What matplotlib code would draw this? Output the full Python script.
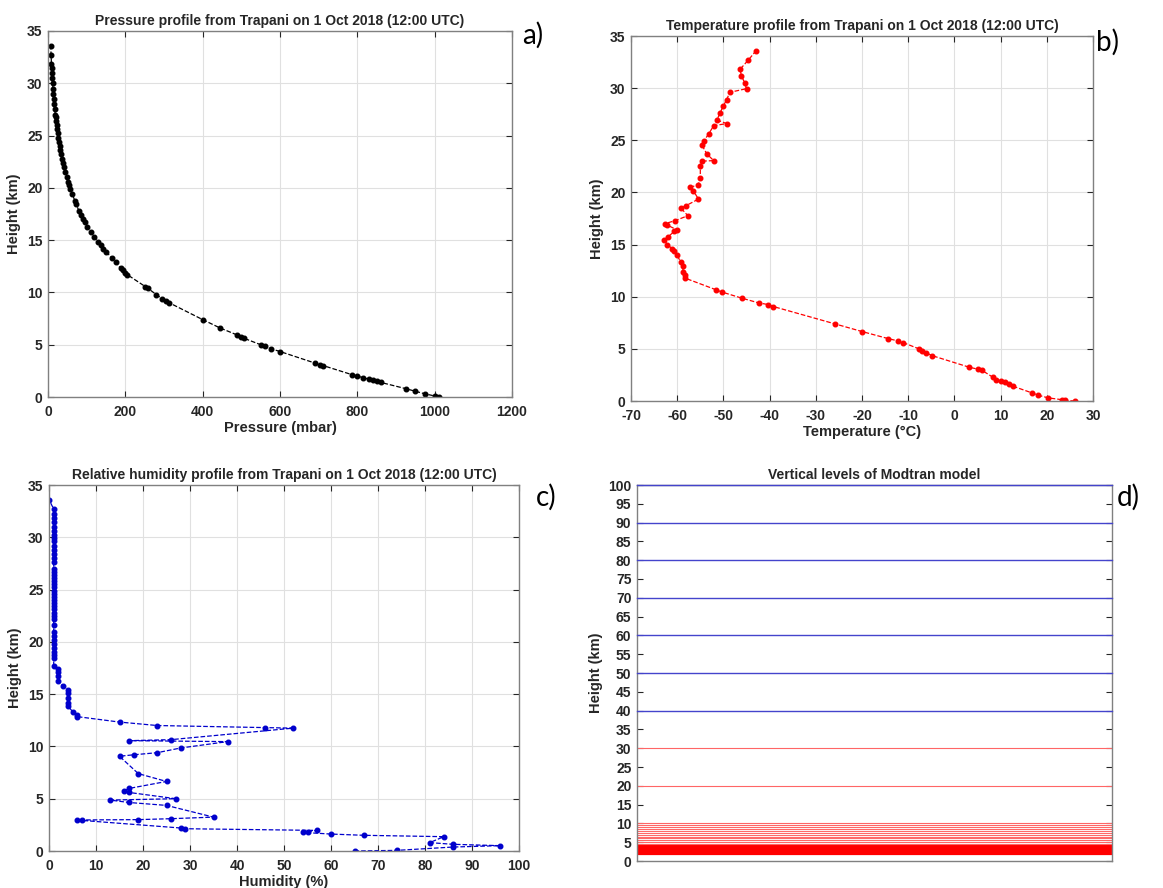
import matplotlib
matplotlib.use("Agg")
import matplotlib.pyplot as plt
import numpy as np

plt.rcParams['font.family'] = ['Liberation Sans', 'DejaVu Sans']
plt.rcParams['axes.unicode_minus'] = False

TITLE_DATE = "on 1 Oct 2018 (12:00 UTC)"

# ---------------- Panel a: pressure profile ----------------
pres_height_km = [0.0, 0.1, 0.3, 0.55, 0.8, 1.4, 1.5, 1.6, 1.7, 1.85, 2.0, 2.15, 3.0, 3.1, 3.25,
                  4.35, 4.6, 4.9, 5.0, 5.6, 5.7, 5.95, 6.6, 7.4, 9.0, 9.15, 9.4, 9.8, 10.4, 10.55,
                  11.7, 11.9, 12.1, 12.3, 12.9, 13.3, 13.9, 14.2, 14.5, 14.8, 15.3, 15.8, 16.3,
                  16.7, 17.0, 17.4, 17.8, 18.5, 18.7, 19.4, 19.9, 20.3, 20.6, 21.0, 21.5, 22.0,
                  22.4, 22.8, 23.2, 23.6, 24.0, 24.4, 24.8, 25.2, 25.6, 26.0, 26.4, 26.8, 27.0,
                  27.5, 28.0, 28.5, 29.0, 29.5, 30.0, 30.5, 31.0, 31.5, 31.8, 32.7, 33.6]
pres_mbar = [1012, 1000, 975, 950, 925, 860, 850, 840, 830, 815, 800, 785, 712, 703, 690,
             600, 578, 560, 550, 508, 500, 488, 445, 400, 314, 305, 295, 280, 258, 252,
             205, 200, 195, 188, 175, 165, 150, 143, 136, 130, 120, 111, 102,
             96, 91, 85, 80, 72, 70, 63, 58, 55, 52, 49, 45, 41,
             38, 36, 34, 32, 30, 28, 26, 25, 23, 22, 21, 20, 19,
             17.5, 16, 15, 14, 13, 12, 11, 10.5, 9.5, 9, 8, 7]

# ---------------- Panel b: temperature profile ----------------
temp_height_km = [0.0, 0.06, 0.13, 0.3, 0.55, 0.76, 1.43, 1.6, 1.8, 1.9, 2.0, 2.26, 2.96, 3.05, 3.24,
                  4.36, 4.64, 4.83, 4.99, 5.6, 5.76, 5.98, 6.65, 7.4, 9.06, 9.25, 9.4, 9.86,
                  10.46, 10.65, 11.8, 12.05, 12.37, 12.9, 13.3, 13.96, 14.34, 14.6, 15.0, 15.45,
                  15.77, 16.28, 16.4, 16.9, 17.0, 17.3, 17.77, 18.5, 18.73, 19.36, 20.16, 20.5,
                  20.7, 21.4, 22.5, 23.0, 23.05, 23.7, 24.5, 24.9, 25.6, 26.4, 26.6, 26.95,
                  27.65, 28.3, 28.9, 29.6, 29.95, 30.5, 31.2, 31.8, 32.7, 33.6]
temp_c = [26.1, 24.0, 23.2, 20.3, 18.2, 16.9, 12.6, 11.8, 10.9, 10.0, 9.0, 8.4, 5.9, 5.1, 3.2,
          -4.9, -6.1, -7.0, -7.6, -11.1, -12.2, -14.3, -19.9, -25.9, -39.2, -40.3, -42.3, -46.0,
          -50.4, -51.5, -58.4, -58.4, -58.7, -58.8, -59.2, -60.0, -60.8, -61.1, -62.1, -62.9,
          -61.9, -60.6, -60.0, -62.3, -62.7, -60.4, -57.7, -59.2, -58.1, -55.4, -56.5, -57.3,
          -55.5, -55.0, -55.0, -54.6, -52.1, -53.6, -54.6, -54.3, -53.2, -52.1, -49.3, -51.4,
          -50.7, -50.0, -49.3, -48.6, -45.0, -45.4, -46.1, -46.4, -44.6, -42.9]

# ---------------- Panel c: relative humidity profile ----------------
rh_height_km = [0.0, 0.06, 0.38, 0.51, 0.64, 0.8, 1.37, 1.5, 1.62, 1.78, 1.84, 1.97, 2.13, 2.2,
                2.96, 2.97, 3.0, 3.09, 3.24, 4.36, 4.64, 4.87, 5.0, 5.6, 5.76, 5.98, 6.65, 7.4,
                9.06, 9.2, 9.4, 9.85, 10.46, 10.55, 10.65, 11.75, 11.8, 12.0, 12.33, 12.85, 13.0,
                13.33, 13.9, 14.2, 14.6, 15.1, 15.4, 15.8, 16.3, 16.7, 17.1, 17.4, 17.7,
                18.5, 18.7, 19.0, 19.4, 19.8, 20.2, 20.6, 20.9, 21.6, 22.2, 22.5, 22.8, 23.1,
                23.4, 23.7, 24.0, 24.3, 24.6, 24.9, 25.2, 25.5, 25.8, 26.1, 26.4, 26.7, 27.0,
                27.6, 28.0, 28.4, 28.8, 29.2, 29.6, 29.9, 30.2, 30.6, 31.0, 31.5, 31.8, 32.2,
                32.7, 33.6]
rh_pct = [65, 74, 86, 96, 86, 81, 84, 67, 60, 54, 55, 57, 29, 28,
          6, 7, 19, 26, 35, 25, 17, 13, 27, 17, 16, 17, 25, 19,
          15, 18, 23, 28, 38, 17, 26, 52, 46, 23, 15, 6, 6,
          5, 4, 4, 4, 4, 4, 3, 2, 2, 2, 2, 1,
          1, 1, 1, 1, 1, 1, 1, 1, 1, 1, 1, 1, 1,
          1, 1, 1, 1, 1, 1, 1, 1, 1, 1, 1, 1, 1,
          1, 1, 1, 1, 1, 1, 1, 1, 1, 1, 1, 1, 1,
          1, 0]

# ---------------- Panel d: Modtran vertical levels ----------------
modtran_band_km = [1.9, 2.0, 2.1, 2.2, 2.3, 2.4, 2.5, 2.6, 2.7, 2.8, 2.9, 3.0, 3.1, 3.2, 3.3,
                   3.4, 3.5, 3.6, 3.7, 3.8, 3.9, 4.0]
modtran_low_km = [4.5, 5.0, 5.5, 6.0, 6.5, 7.0, 7.5, 8.0, 8.5, 9.0, 9.5, 10.0, 20.0, 30.0]
modtran_high_km = [40, 50, 60, 70, 80, 90, 100]

TXT = '#262626'
fig = plt.figure(figsize=(11.63, 8.88), dpi=100)

def style(ax, xticks, yticks, xlim, ylim, grid=True):
    ax.set_xlim(*xlim)
    ax.set_ylim(*ylim)
    ax.set_xticks(xticks)
    ax.set_yticks(yticks)
    ax.tick_params(direction='in', top=True, right=True, length=4, width=0.8,
                   colors=TXT, labelsize=10)
    ax.tick_params(axis='x', pad=6)
    ax.tick_params(axis='y', pad=4)
    for lab in ax.get_xticklabels() + ax.get_yticklabels():
        lab.set_fontweight('bold')
    for s in ax.spines.values():
        s.set_color('#808080')
        s.set_linewidth(1.0)
    if grid:
        ax.grid(True, color='#e0e0e0', linewidth=0.8)
        ax.set_axisbelow(True)

def deco(ax, title, xlabel, ylabel):
    ax.set_title(title, fontsize=10, fontweight='bold', color=TXT, pad=4)
    if xlabel:
        ax.set_xlabel(xlabel, fontsize=10.5, fontweight='bold', color=TXT, labelpad=1)
    ax.set_ylabel(ylabel, fontsize=10.5, fontweight='bold', color=TXT, labelpad=4)

W, H = 1163, 888
def axes_px(l, r, t, b):
    return fig.add_axes([l / W, (H - b) / H, (r - l) / W, (b - t) / H])

MS = 3.3

# a
axa = axes_px(48, 512, 31, 397)
axa.plot(pres_mbar, pres_height_km, '--', color='black', lw=0.9, marker='o', ms=MS,
         markerfacecolor='black', markeredgecolor='black')
style(axa, np.arange(0, 1201, 200), np.arange(0, 36, 5), (0, 1200), (0, 35))
deco(axa, "Pressure profile from Trapani " + TITLE_DATE, "Pressure (mbar)", "Height (km)")

# b
axb = axes_px(631, 1093, 36, 401)
axb.plot(temp_c, temp_height_km, '--', color='red', lw=0.9, marker='o', ms=MS,
         markerfacecolor='red', markeredgecolor='red')
style(axb, np.arange(-70, 31, 10), np.arange(0, 36, 5), (-70, 30), (0, 35))
deco(axb, "Temperature profile from Trapani " + TITLE_DATE, "Temperature (°C)", "Height (km)")

# c
axc = axes_px(49, 519, 485, 851)
axc.plot(rh_pct, rh_height_km, '--', color='#0000cc', lw=0.9, marker='o', ms=MS,
         markerfacecolor='#0000cc', markeredgecolor='#0000cc')
style(axc, np.arange(0, 101, 10), np.arange(0, 36, 5), (0, 100), (0, 35))
deco(axc, "Relative humidity profile from Trapani " + TITLE_DATE, "Humidity (%)", "Height (km)")

# d
axd = axes_px(637, 1112, 485, 861)
for lvl in modtran_band_km:
    axd.axhline(lvl, color='red', lw=1.6)
for lvl in modtran_low_km:
    axd.axhline(lvl, color='#ff6666', lw=0.8)
for lvl in modtran_high_km:
    axd.axhline(lvl, color='#4444cc', lw=1.0, clip_on=False, zorder=5)
style(axd, [], np.arange(0, 101, 5), (0, 1), (0, 100), grid=False)
axd.tick_params(top=False, bottom=False)
deco(axd, "Vertical levels of Modtran model", None, "Height (km)")

# panel letters
for txt, x, y in [("a)", 533, 35), ("b)", 1108, 42), ("c)", 546, 497), ("d)", 1128, 497)]:
    fig.text(x / W, 1 - y / H, txt, fontsize=20, family=['Lato', 'DejaVu Sans'],
             ha='center', va='center', color='black')

fig.savefig("out.png", dpi=100)
